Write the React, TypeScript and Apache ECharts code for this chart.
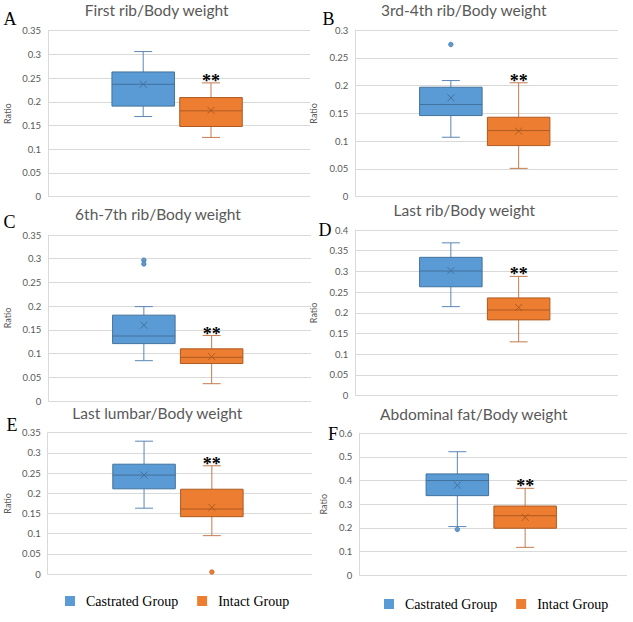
import React, { useEffect, useRef } from "react";
import * as echarts from "echarts";

const groups = ["Castrated Group", "Intact Group"];
const panelLetters = ["A", "B", "C", "D", "E", "F"];
const panelTitles = [
  "First rib/Body weight",
  "3rd-4th rib/Body weight",
  "6th-7th rib/Body weight",
  "Last rib/Body weight",
  "Last lumbar/Body weight",
  "Abdominal fat/Body weight",
];
const yMaxes = [0.35, 0.3, 0.35, 0.4, 0.35, 0.6];
const yIntervals = [0.05, 0.05, 0.05, 0.05, 0.05, 0.1];
// [lower whisker, Q1, median, Q3, upper whisker]
const castratedBoxes = [
  [0.169, 0.191, 0.237, 0.263, 0.306],
  [0.107, 0.146, 0.166, 0.197, 0.209],
  [0.085, 0.121, 0.137, 0.181, 0.199],
  [0.215, 0.263, 0.301, 0.334, 0.369],
  [0.163, 0.211, 0.245, 0.272, 0.329],
  [0.205, 0.336, 0.4, 0.428, 0.522],
];
const intactBoxes = [
  [0.125, 0.148, 0.181, 0.209, 0.24],
  [0.051, 0.092, 0.119, 0.143, 0.205],
  [0.0365, 0.079, 0.092, 0.11, 0.138],
  [0.13, 0.183, 0.207, 0.236, 0.288],
  [0.095, 0.142, 0.161, 0.21, 0.268],
  [0.117, 0.198, 0.251, 0.292, 0.367],
];
const castratedMeans = [0.237, 0.178, 0.16, 0.302, 0.245, 0.38];
const intactMeans = [0.182, 0.118, 0.0935, 0.213, 0.165, 0.244];
const castratedOutliers = [[], [0.274], [0.297, 0.289], [], [], [0.193]];
const intactOutliers = [[], [], [], [], [0.005], []];
const significance = ["**", "**", "**", "**", "**", "**"];

const grids = [
  { left: 48, top: 30.7, width: 262, height: 166 },
  { left: 355.3, top: 30, width: 262.7, height: 166.7 },
  { left: 48.3, top: 235, width: 262.7, height: 166 },
  { left: 355.3, top: 230, width: 262.7, height: 165.7 },
  { left: 47.7, top: 432.7, width: 264.3, height: 141.3 },
  { left: 359.3, top: 433.3, width: 267.7, height: 141.7 },
];
const nameGaps = [36, 37, 36, 37, 36, 31];
const titlePos = [
  [156.7, 10],
  [463.7, 10],
  [158, 214],
  [464.3, 209.7],
  [157.3, 413],
  [473.8, 414],
];
const letterPos = [
  [10, 19],
  [328.5, 18.5],
  [9.5, 221.5],
  [325, 230],
  [12, 424.5],
  [333, 433.5],
];

const styles = [
  { fill: "#5B9BD5", border: "#41719C", whisker: "#5B86B5", offset: -35.8 },
  { fill: "#ED7D31", border: "#AE5A21", whisker: "#C67B4E", offset: 32 },
];

function makeRender(side: number, panel: number) {
  const st = styles[side];
  const outliers = side === 0 ? castratedOutliers[panel] : intactOutliers[panel];
  return (params: any, api: any) => {
    const cx = api.coord([0, 0])[0] + st.offset;
    const y = (v: number) => api.coord([0, v])[1];
    const mn = api.value(1), q1 = api.value(2), md = api.value(3), q3 = api.value(4), mx = api.value(5), mean = api.value(6);
    const half = 31.25;
    const cap = 9;
    const ln = (x1: number, y1: number, x2: number, y2: number, color: string) => ({
      type: "line",
      shape: { x1, y1, x2, y2 },
      style: { stroke: color, lineWidth: 1 },
    });
    const children: any[] = [
      ln(cx, y(mx), cx, y(q3), st.whisker),
      ln(cx, y(q1), cx, y(mn), st.whisker),
      ln(cx - cap, y(mx), cx + cap, y(mx), st.whisker),
      ln(cx - cap, y(mn), cx + cap, y(mn), st.whisker),
      {
        type: "rect",
        shape: { x: cx - half, y: y(q3), width: half * 2, height: y(q1) - y(q3) },
        style: { fill: st.fill, stroke: st.border, lineWidth: 1 },
      },
      ln(cx - half, y(md), cx + half, y(md), st.border),
      ln(cx - 3.5, y(mean) - 3.5, cx + 3.5, y(mean) + 3.5, st.border),
      ln(cx - 3.5, y(mean) + 3.5, cx + 3.5, y(mean) - 3.5, st.border),
    ];
    outliers.forEach((o: number) => {
      children.push({
        type: "circle",
        shape: { cx, cy: y(o), r: 2.3 },
        style: { fill: st.fill, stroke: st.border, lineWidth: 0.6 },
      });
    });
    if (side === 1) {
      children.push({
        type: "text",
        style: {
          text: significance[panel],
          x: cx,
          y: y(mx) - 2,
          align: "center",
          verticalAlign: "middle",
          fill: "#000",
          font: "bold 18px 'Liberation Serif'",
        },
      });
    }
    return { type: "group", children };
  };
}

export default function App() {
  const ref = useRef<HTMLDivElement>(null);
  useEffect(() => {
    const chart = echarts.init(ref.current!, undefined, { renderer: "svg" });
    const series: any[] = [];
    panelTitles.forEach((_, p) => {
      [castratedBoxes[p], intactBoxes[p]].forEach((box, side) => {
        const mean = side === 0 ? castratedMeans[p] : intactMeans[p];
        series.push({
          type: "custom",
          name: groups[side],
          xAxisIndex: p,
          yAxisIndex: p,
          itemStyle: { color: styles[side].fill },
          renderItem: makeRender(side, p),
          data: [[0, ...box, mean]],
          encode: { x: 0, y: [1, 2, 3, 4, 5] },
          silent: true,
          clip: false,
        });
      });
    });
    const legendBase = {
      data: groups,
      icon: "rect",
      itemWidth: 10,
      itemHeight: 10,
      itemGap: 19,
      selectedMode: false,
      orient: "horizontal",
      textStyle: {
        fontFamily: "Liberation Serif",
        fontSize: 14,
        color: "#000",
        padding: [0, 0, 0, 6],
      },
    };
    const graphics: any[] = [];
    panelTitles.forEach((t, p) => {
      graphics.push({
        type: "text",
        x: titlePos[p][0],
        y: titlePos[p][1],
        style: {
          text: t,
          align: "center",
          verticalAlign: "middle",
          fill: "#595959",
          font: "15.5px Lato",
        },
      });
      graphics.push({
        type: "text",
        x: letterPos[p][0],
        y: letterPos[p][1],
        style: {
          text: panelLetters[p],
          align: "center",
          verticalAlign: "middle",
          fill: "#000",
          font: "18px 'Liberation Serif'",
        },
      });
    });
    chart.setOption({
      animation: false,
      backgroundColor: "#fff",
      grid: grids.map((g) => ({ ...g })),
      xAxis: grids.map((_, p) => ({
        type: "category",
        gridIndex: p,
        data: [""],
        show: false,
      })),
      yAxis: grids.map((_, p) => ({
        type: "value",
        gridIndex: p,
        min: 0,
        max: yMaxes[p],
        interval: yIntervals[p],
        name: "Ratio",
        nameLocation: "middle",
        nameGap: nameGaps[p],
        nameTextStyle: { fontFamily: "Lato", fontSize: 9, color: "#595959" },
        axisLine: { show: true, lineStyle: { color: "#D9D9D9" } },
        axisTick: { show: false },
        splitLine: { lineStyle: { color: "#D9D9D9" } },
        axisLabel: { color: "#595959", fontSize: 9.5, fontFamily: "Lato", margin: 7 },
      })),
      legend: [
        { ...legendBase, left: 60, top: 589 },
        { ...legendBase, left: 379, top: 592 },
      ],
      graphic: graphics,
      series,
    });
    return () => chart.dispose();
  }, []);
  return (
    <div
      ref={ref}
      style={{ position: "fixed", left: 0, top: 0, width: 633, height: 622 }}
    />
  );
}
